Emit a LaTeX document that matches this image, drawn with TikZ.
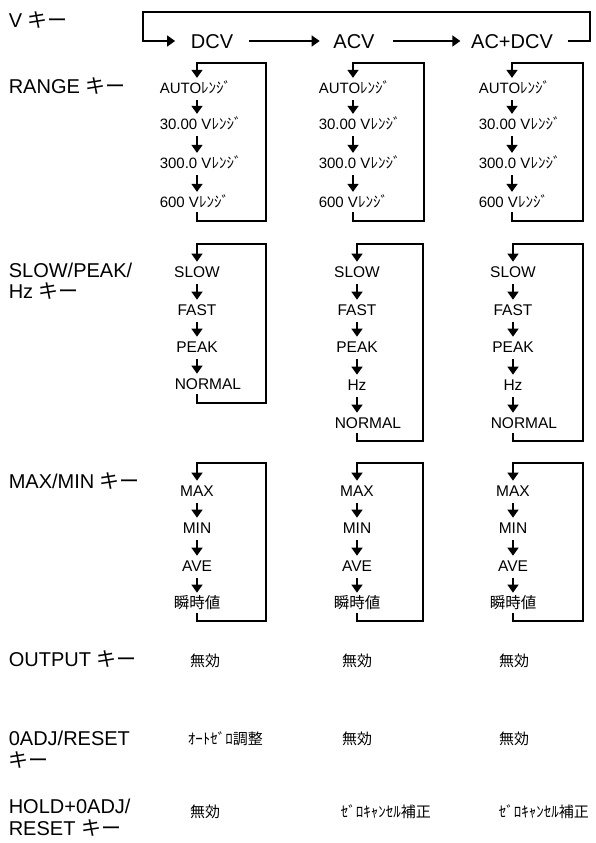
\documentclass[tikz,border=0pt]{standalone}
\usepackage{fontspec}
\setmainfont{Liberation Sans}
\newfontfamily\jp{Noto Sans CJK JP}
\usetikzlibrary{arrows.meta}
\begin{document}
\begin{tikzpicture}[x=1pt,y=-1pt,
  line width=1.6pt,
  arr/.style={-{Triangle[width=11pt,length=8pt]}},
  nextarr/.style={arr, shorten <=6pt, shorten >=4pt},
  looparr/.style={arr, shorten <=4pt, shorten >=4pt},
  every node/.style={inner sep=0pt, text depth=0pt},
  keylabel/.style={font=\fontsize{20}{22}\selectfont, text height=14.3pt, anchor=west},
  mode/.style={font=\fontsize{20}{22}\selectfont, text height=14.3pt},
  item/.style={font=\fontsize{15.5}{17}\selectfont, text height=11.1pt},
  rangeitem/.style={font=\fontsize{15}{17}\selectfont, text height=10.7pt, anchor=west},
  jpval/.style={font=\jp\fontsize{15}{17}\selectfont, text height=10.7pt},
]
\useasboundingbox (0,0) rectangle (595,843);

% key names down the left side
\node[keylabel] (kv)     at (8,20)  {V {\jp キー}};
\node[keylabel] (krange) at (8,86)  {RANGE {\jp キー}};
\node[keylabel] (kslowa) at (8,270) {SLOW/PEAK/};
\node[keylabel] (kslowb) at (8,291) {Hz {\jp キー}};
\node[keylabel] (kmax)   at (8,481) {MAX/MIN {\jp キー}};
\node[keylabel] (kout)   at (8,659) {OUTPUT {\jp キー}};
\node[keylabel] (kadja)  at (8,738) {0ADJ/RESET};
\node[keylabel] (kadjb)  at (8,760) {{\jp キー}};
\node[keylabel] (kholda) at (8,806) {HOLD+0ADJ/};
\node[keylabel] (kholdb) at (8,828) {RESET {\jp キー}};

% function cycle of the V key
\node[mode] (dcv)   at (212,41) {DCV};
\node[mode] (acv)   at (354,41) {ACV};
\node[mode] (acdcv) at (512,41) {AC+DCV};
\coordinate (vtl) at (143,12);
\coordinate (vtr) at (590,12);
\draw[arr] ([xshift=15pt]dcv.east) -- ([xshift=-13pt]acv.west);
\draw[arr] ([xshift=18pt]acv.east) -- ([xshift=-10pt]acdcv.west);
\draw[arr] ([xshift=14pt]acdcv.east) -| (vtr) -- (vtl) |- ([xshift=-15pt]dcv.west);

% RANGE key cycles
\foreach \c/\tx/\ax/\rx in {1/159/197/266, 2/318/353/424, 3/478/512/583}{
  \node[rangeitem] (rg\c-1) at (\tx,88)  {AUTO{\jp ﾚﾝｼﾞ}};
  \node[rangeitem] (rg\c-2) at (\tx,124) {30.00 V{\jp ﾚﾝｼﾞ}};
  \node[rangeitem] (rg\c-3) at (\tx,163) {300.0 V{\jp ﾚﾝｼﾞ}};
  \node[rangeitem] (rg\c-4) at (\tx,202) {600 V{\jp ﾚﾝｼﾞ}};
  \coordinate (rgx\c)  at (\ax,63);
  \coordinate (rgtr\c) at (\rx,63);
  \coordinate (rgbr\c) at (\rx,221);
  \foreach \i/\j in {1/2,2/3,3/4}
    \draw[nextarr] (rg\c-\i.south -| rgx\c) -- (rg\c-\j.north -| rgx\c);
  \draw[looparr] (rg\c-4.south -| rgx\c) |- (rgbr\c) -- (rgtr\c) -| (rg\c-1.north -| rgx\c);
}

% SLOW/PEAK/Hz key cycle, DCV
\node[item] (sl1-1) at (197,272) {SLOW};
\node[item] (sl1-2) at (197,310) {FAST};
\node[item] (sl1-3) at (197,347) {PEAK};
\node[item, anchor=west] (sl1-4) at (174,384) {NORMAL};
\coordinate (slx1)  at (197,244);
\coordinate (sltr1) at (266,244);
\coordinate (slbr1) at (266,403);
\foreach \i/\j in {1/2,2/3,3/4}
  \draw[nextarr] (sl1-\i.south -| slx1) -- (sl1-\j.north -| slx1);
\draw[looparr] (sl1-4.south -| slx1) |- (slbr1) -- (sltr1) -| (sl1-1.north -| slx1);

% SLOW/PEAK/Hz key cycles, ACV and AC+DCV
\foreach \c/\ax/\rx in {2/357/423, 3/513/583}{
  \node[item] (sl\c-1) at (\ax,272) {SLOW};
  \node[item] (sl\c-2) at (\ax,310) {FAST};
  \node[item] (sl\c-3) at (\ax,347) {PEAK};
  \node[item] (sl\c-4) at (\ax,385) {Hz};
  \node[item, anchor=west] (sl\c-5) at (\ax-23,423) {NORMAL};
  \coordinate (slx\c)  at (\ax,244);
  \coordinate (sltr\c) at (\rx,244);
  \coordinate (slbr\c) at (\rx,441);
  \foreach \i/\j in {1/2,2/3,3/4,4/5}
    \draw[nextarr] (sl\c-\i.south -| slx\c) -- (sl\c-\j.north -| slx\c);
  \draw[looparr] (sl\c-5.south -| slx\c) |- (slbr\c) -- (sltr\c) -| (sl\c-1.north -| slx\c);
}

% MAX/MIN key cycles
\foreach \c/\ax/\rx in {1/197/266, 2/357/423, 3/513/583}{
  \node[item] (mm\c-1) at (\ax,491) {MAX};
  \node[item] (mm\c-2) at (\ax,528) {MIN};
  \node[item] (mm\c-3) at (\ax,566) {AVE};
  \node[item, font=\jp\fontsize{15.5}{17}\selectfont] (mm\c-4) at (\ax,603) {瞬時値};
  \coordinate (mmx\c)  at (\ax,463);
  \coordinate (mmtr\c) at (\rx,463);
  \coordinate (mmbr\c) at (\rx,621);
  \foreach \i/\j in {1/2,2/3,3/4}
    \draw[nextarr] (mm\c-\i.south -| mmx\c) -- (mm\c-\j.north -| mmx\c);
  \draw[looparr] (mm\c-4.south -| mmx\c) |- (mmbr\c) -- (mmtr\c) -| (mm\c-1.north -| mmx\c);
}

% OUTPUT key
\node[jpval] (out1) at (205,661) {無効};
\node[jpval] (out2) at (357,661) {無効};
\node[jpval] (out3) at (514,661) {無効};

% 0ADJ/RESET key
\node[jpval, anchor=west] (adj1) at (187,739) {ｵｰﾄｾﾞﾛ調整};
\node[jpval] (adj2) at (357,739) {無効};
\node[jpval] (adj3) at (514,739) {無効};

% HOLD+0ADJ/RESET key
\node[jpval] (hold1) at (205,812) {無効};
\node[jpval, anchor=west] (hold2) at (340,812) {ｾﾞﾛｷｬﾝｾﾙ補正};
\node[jpval, anchor=west] (hold3) at (498,812) {ｾﾞﾛｷｬﾝｾﾙ補正};
\end{tikzpicture}
\end{document}
